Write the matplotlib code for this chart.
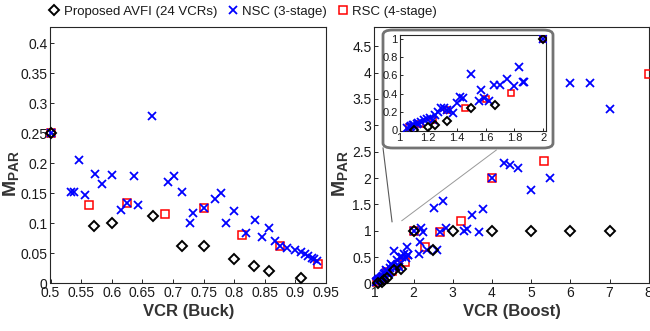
import matplotlib
matplotlib.use("Agg")
import matplotlib.pyplot as plt
from matplotlib.patches import FancyBboxPatch
from matplotlib.lines import Line2D

plt.rcParams['font.family'] = ['Liberation Sans', 'DejaVu Sans']
plt.rcParams['mathtext.fontset'] = 'custom'
plt.rcParams['mathtext.bf'] = 'Liberation Sans:bold'
plt.rcParams['mathtext.rm'] = 'Liberation Sans'

# ---- Buck data ----
buck_avfi_x = [0.5, 0.571, 0.6, 0.667, 0.714, 0.75, 0.8, 0.833, 0.857, 0.909]
buck_avfi_y = [0.25, 0.095, 0.1, 0.112, 0.062, 0.063, 0.041, 0.029, 0.021, 0.009]

buck_nsc_x = [0.5, 0.533, 0.538, 0.546, 0.556, 0.572, 0.584, 0.6, 0.615, 0.625,
              0.637, 0.643, 0.666, 0.692, 0.701, 0.715, 0.728, 0.733, 0.75, 0.769,
              0.778, 0.786, 0.8, 0.819, 0.834, 0.845, 0.857, 0.867, 0.875, 0.887,
              0.899, 0.909, 0.916, 0.921, 0.927, 0.931, 0.935]
buck_nsc_y = [0.25, 0.152, 0.152, 0.206, 0.147, 0.183, 0.166, 0.18, 0.1225, 0.1335,
              0.179, 0.131, 0.279, 0.169, 0.179, 0.153, 0.1, 0.118, 0.126, 0.14,
              0.15, 0.1, 0.12, 0.0835, 0.106, 0.078, 0.092, 0.071, 0.062, 0.059,
              0.055, 0.053, 0.0495, 0.046, 0.043, 0.041, 0.038]

buck_rsc_x = [0.5, 0.5625, 0.625, 0.6875, 0.75, 0.8125, 0.875, 0.9375]
buck_rsc_y = [0.25, 0.131, 0.1335, 0.115, 0.126, 0.081, 0.062, 0.032]

# ---- Boost data ----
boost_avfi_x = [1.1, 1.2, 1.25, 1.333, 1.5, 1.667, 2, 2.5, 3, 4, 5, 6, 7]
boost_avfi_y = [0.01, 0.036, 0.065, 0.108, 0.245, 0.277, 1.0, 0.63, 1.0, 1.0, 1.0, 1.0, 1.0]

boost_nsc_x = [1.05, 1.07, 1.08, 1.09, 1.10, 1.12, 1.13, 1.15, 1.17, 1.19,
               1.21, 1.23, 1.25, 1.27, 1.29, 1.31, 1.33, 1.35, 1.37, 1.40,
               1.42, 1.44, 1.50, 1.55, 1.57, 1.59, 1.62, 1.66, 1.70, 1.75,
               1.80, 1.83, 1.86, 1.87, 2.0, 2.14, 2.16, 2.18, 2.25, 2.34,
               2.51, 2.61, 2.67, 2.74, 2.82, 3.29, 3.36, 3.5, 3.66, 3.76,
               4.0, 4.3, 4.47, 4.67, 5.0, 5.47, 6.0, 6.49, 7.0]
boost_nsc_y = [0.03, 0.04, 0.05, 0.055, 0.06, 0.07, 0.08, 0.09, 0.11, 0.13,
               0.14, 0.11, 0.17, 0.2, 0.25, 0.24, 0.225, 0.22, 0.19, 0.3,
               0.36, 0.35, 0.62, 0.32, 0.44, 0.35, 0.32, 0.5, 0.5, 0.565,
               0.48, 0.695, 0.53, 0.53, 1.0, 0.56, 0.78, 1.05, 0.98, 0.64,
               1.44, 0.64, 0.97, 1.57, 1.05, 1.0, 1.03, 1.3, 0.98, 1.42,
               2.0, 2.28, 2.24, 2.19, 1.77, 2.0, 3.8, 3.8, 3.31]

boost_rsc_x = [1.067, 1.143, 1.231, 1.333, 1.4545, 1.6, 1.778, 2, 2.286, 2.667,
               3.2, 4, 5.333, 8]
boost_rsc_y = [0.035, 0.07, 0.11, 0.225, 0.24, 0.345, 0.413, 1.0, 0.69, 0.97,
               1.185, 2.0, 2.32, 3.98]

labels = ['Proposed AVFI (24 VCRs)', 'NSC (3-stage)', 'RSC (4-stage)']

W, H = 650, 331
fig = plt.figure(figsize=(6.5, 3.31), dpi=100)

ax1 = fig.add_axes([50.5 / W, 1 - 283.4 / H, (326 - 50.5) / W, (283.4 - 27.3) / H])
ax2 = fig.add_axes([374.4 / W, 1 - 283.4 / H, (648.7 - 374.4) / W, (283.4 - 27.3) / H])
axi = fig.add_axes([399.6 / W, 1 - 130.5 / H, (546 - 399.6) / W, (130.5 - 35) / H])
axi.set_zorder(3)

edge = '0.15'


def draw(ax, ax_x, ax_y, nx, ny, rx, ry, ms=4.8, clip=False):
    ax.plot(rx, ry, 's', mfc='none', mec='#ff0000', mew=1.1, ms=ms + 0.3, clip_on=clip, zorder=3)
    ax.plot(nx, ny, 'x', color='#0000ff', mew=1.3, ms=ms + 0.6, clip_on=clip, zorder=4)
    ax.plot(ax_x, ax_y, 'D', mfc='none', mec='black', mew=1.4, ms=ms, clip_on=clip, zorder=5)


def style(ax, size):
    for s in ax.spines.values():
        s.set_color(edge)
        s.set_linewidth(0.8)
    ax.tick_params(direction='in', length=3, width=0.7, color=edge, labelsize=size,
                   labelcolor='0.1', top=False, right=False, pad=2)


draw(ax1, buck_avfi_x, buck_avfi_y, buck_nsc_x, buck_nsc_y, buck_rsc_x, buck_rsc_y)
ax1.set_xlim(0.5, 0.95)
ax1.set_ylim(0, 0.427)
ax1.set_xticks([0.5, 0.55, 0.6, 0.65, 0.7, 0.75, 0.8, 0.85, 0.9, 0.95])
ax1.set_xticklabels(['0.5', '0.55', '0.6', '0.65', '0.7', '0.75', '0.8', '0.85', '0.9', '0.95'])
ax1.set_yticks([0, 0.05, 0.1, 0.15, 0.2, 0.25, 0.3, 0.35, 0.4])
ax1.set_yticklabels(['0', '0.05', '0.1', '0.15', '0.2', '0.25', '0.3', '0.35', '0.4'])
style(ax1, 10)
ax1.set_xlabel('VCR (Buck)', fontsize=12, fontweight='bold', color='0.2', labelpad=3)

draw(ax2, boost_avfi_x, boost_avfi_y, boost_nsc_x, boost_nsc_y, boost_rsc_x, boost_rsc_y)
ax2.set_xlim(1, 8)
ax2.set_ylim(0, 4.86)
ax2.set_xticks(range(1, 9))
ax2.set_yticks([0, 0.5, 1, 1.5, 2, 2.5, 3, 3.5, 4, 4.5])
ax2.set_yticklabels(['0', '0.5', '1', '1.5', '2', '2.5', '3', '3.5', '4', '4.5'])
style(ax2, 10)
ax2.set_xlabel('VCR (Boost)', fontsize=12, fontweight='bold', color='0.2', labelpad=3)

ylab = r'$\mathbf{M}_{\mathbf{PAR}}$'
fig.text(12 / W, 1 - 174 / H, ylab, rotation=90, ha='center', va='center', fontsize=14, color='0.2')
fig.text(341 / W, 1 - 174 / H, ylab, rotation=90, ha='center', va='center', fontsize=14, color='0.2')

# zoom guide lines
ax2.plot([1.22, 1.45], [2.57, 1.17], color='0.35', lw=0.8, clip_on=False, zorder=2)
ax2.plot([1.70, 4.11], [1.19, 2.53], color='0.6', lw=0.7, clip_on=False, zorder=2)

# rounded frame behind the inset
box = FancyBboxPatch((383 / W, 1 - 148 / H), (553 - 383) / W, (148 - 30) / H,
                     boxstyle='round,pad=0,rounding_size=0.015', transform=fig.transFigure,
                     facecolor='white', edgecolor='0.45', lw=2.0, zorder=2)
fig.patches.append(box)

draw(axi, boost_avfi_x, boost_avfi_y, boost_nsc_x, boost_nsc_y, boost_rsc_x, boost_rsc_y,
     ms=4.5, clip=True)
axi.set_xlim(1, 2.02)
axi.set_ylim(0, 1.04)
axi.set_xticks([1, 1.2, 1.4, 1.6, 1.8, 2])
axi.set_xticklabels(['1', '1.2', '1.4', '1.6', '1.8', '2'])
axi.set_yticks([0, 0.2, 0.4, 0.6, 0.8, 1])
axi.set_yticklabels(['0', '0.2', '0.4', '0.6', '0.8', '1'])
style(axi, 8)
axi.tick_params(length=2, pad=1.5)

handles = [
    Line2D([], [], ls='none', marker='D', mfc='none', mec='black', mew=1.4, ms=4.8),
    Line2D([], [], ls='none', marker='x', color='#0000ff', mew=1.3, ms=5.4),
    Line2D([], [], ls='none', marker='s', mfc='none', mec='#ff0000', mew=1.1, ms=5.1),
]
fig.legend(handles, labels, loc='center left', bbox_to_anchor=(49 / W, 1 - 12 / H), ncol=3,
           frameon=False, fontsize=9.5, handlelength=0.8, handletextpad=0.3,
           columnspacing=0.8, borderpad=0, borderaxespad=0, labelcolor='0.1')

fig.savefig('out.png', dpi=100)
